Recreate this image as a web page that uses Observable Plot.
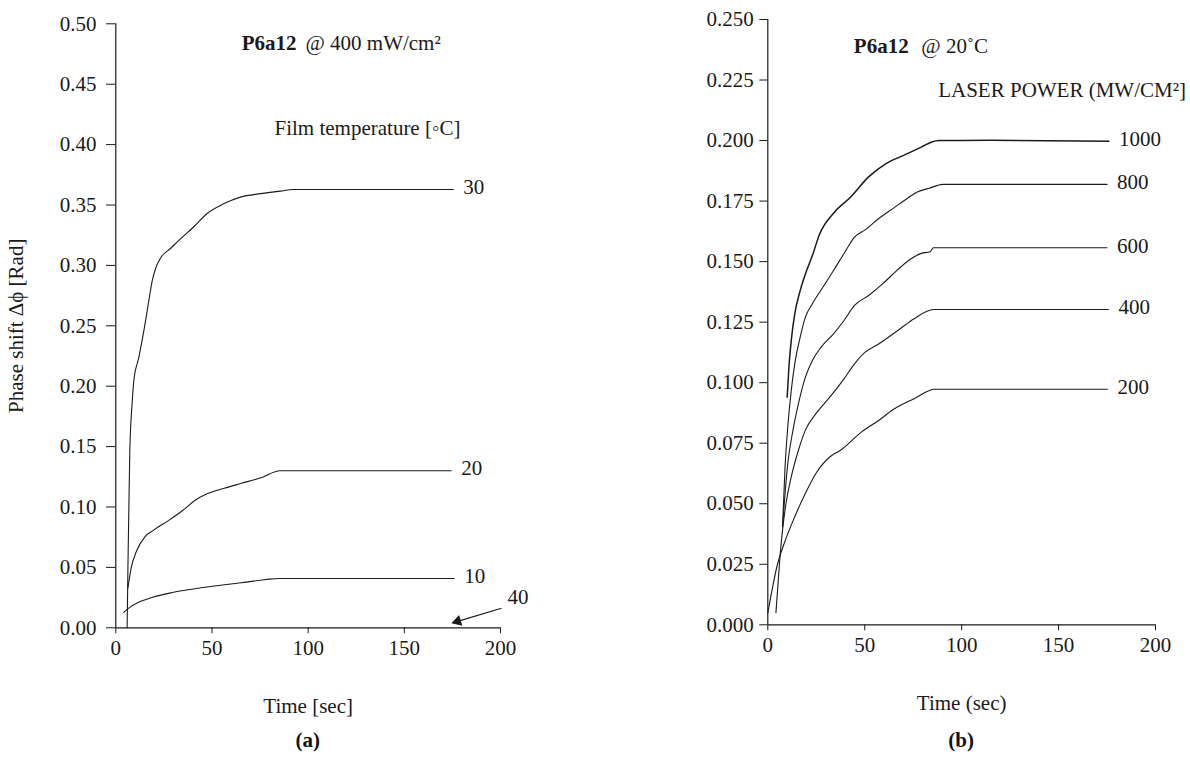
<!DOCTYPE html>
<html>
<head>
<meta charset="utf-8">
<script src="https://cdn.jsdelivr.net/npm/d3@7"></script>
<script src="https://cdn.jsdelivr.net/npm/@observablehq/plot@0.6"></script>
<style>
  html, body { margin: 0; padding: 0; background: #fff; }
  #wrap { display: flex; width: 1190px; }
  .fig { width: 595px; }
  .cap { font-family: 'Liberation Serif', serif; font-weight: bold; font-size: 21px; line-height: 24px; text-align: center; color: #111; margin-top: 8px; }
  svg { overflow: visible; }
  svg text { font-family: 'Liberation Serif', 'Times New Roman', serif !important; }
</style>
</head>
<body>
<div id="wrap">
  <div class="fig" id="figA"></div>
  <div class="fig" id="figB"></div>
</div>
<script>
// ---------- Panel (a): film temperature series ----------
const seriesA = ["30", "20", "10"];
const timeA30 = [5.9, 6.3, 6.8, 7.3, 8.5, 9.4, 12, 14.6, 17.2, 18.9, 20.6, 23.2, 28.4, 33.6, 40.6, 47.5, 56.1, 64.8, 75.2, 85.6, 92.2, 175.5];
const phaseA30 = [0, 0.05, 0.10, 0.147, 0.186, 0.205, 0.224, 0.246, 0.271, 0.287, 0.297, 0.306, 0.314, 0.322, 0.332, 0.343, 0.351, 0.3565, 0.3594, 0.3615, 0.3628, 0.3628];
const timeA20 = [6.3, 8.0, 10.7, 15.2, 19.7, 27.7, 34.9, 41.1, 47.4, 56.4, 65.3, 76, 85.3, 174.4];
const phaseA20 = [0.033, 0.0496, 0.0632, 0.0755, 0.0809, 0.0891, 0.0973, 0.1054, 0.1109, 0.1155, 0.1196, 0.1245, 0.1300, 0.1300];
const timeA10 = [4.1, 7.2, 11.6, 18.8, 29.5, 47.4, 65.3, 85.3, 175.9];
const phaseA10 = [0.0128, 0.0169, 0.021, 0.0251, 0.0292, 0.0338, 0.0373, 0.0408, 0.0408];
// the 40 °C series stays at zero; it is pointed out with an arrow
const arrow40 = {label: "40", x1: 200.5, y1: 0.0162, x2: 177.7, y2: 0.0053, tipX: 177.7, tipY: 0.0053};
const ticksA = [0, 0.05, 0.10, 0.15, 0.20, 0.25, 0.30, 0.35, 0.40, 0.45, 0.50];

// ---------- Panel (b): laser power series ----------
const seriesB = ["1000", "800", "600", "400", "200"];
const timeB1000 = [10.0, 10.9, 12.1, 13.9, 16.7, 19.4, 23.0, 26.6, 33.9, 42.9, 52, 61, 70.1, 79.2, 84.6, 88.2, 115, 176];
const phaseB1000 = [0.094, 0.1065, 0.1174, 0.1284, 0.138, 0.1449, 0.1525, 0.1611, 0.17, 0.1768, 0.185, 0.1905, 0.1939, 0.1973, 0.1994, 0.2, 0.2001, 0.1997];
const timeB800 = [7.6, 8.9, 10.3, 12.1, 13.9, 16.7, 19.4, 23.0, 28.4, 33.9, 40.2, 44.7, 50.2, 57.4, 64.7, 71.9, 77.4, 82.8, 90.4, 175];
const phaseB800 = [0.0405, 0.0652, 0.0817, 0.0968, 0.1078, 0.1188, 0.1271, 0.1326, 0.1394, 0.1463, 0.1545, 0.1601, 0.1631, 0.1679, 0.172, 0.1761, 0.1789, 0.1802, 0.1819, 0.1819];
const timeB600 = [7.6, 8.5, 10.3, 13.0, 15.8, 19.4, 23.0, 27.5, 33.9, 39.3, 44.7, 52, 59.2, 66.5, 73.7, 79.2, 83.7, 85.5, 175];
const phaseB600 = [0.0405, 0.0501, 0.0666, 0.0804, 0.0913, 0.1023, 0.1092, 0.1147, 0.1202, 0.1257, 0.1319, 0.136, 0.1408, 0.1463, 0.1511, 0.1534, 0.1541, 0.1557, 0.1557];
const timeB400 = [4.2, 5.3, 6.3, 7.6, 9.4, 12.1, 15.8, 19.4, 24.8, 32.1, 39.3, 44.7, 50.2, 57.4, 68.3, 75.5, 85.5, 175.7];
const phaseB400 = [0.005, 0.0172, 0.0282, 0.0391, 0.0501, 0.0611, 0.0721, 0.0804, 0.0872, 0.0941, 0.1016, 0.1078, 0.1126, 0.1161, 0.1223, 0.1264, 0.1302, 0.1302];
const timeB200 = [0, 2.2, 4.9, 8.5, 13.9, 19.4, 24.8, 32.1, 37.5, 48.4, 57.4, 64.7, 75.5, 86.1, 175.2];
const phaseB200 = [0.0048, 0.0144, 0.0247, 0.0337, 0.0446, 0.0543, 0.0625, 0.0694, 0.0721, 0.0797, 0.0845, 0.0889, 0.0934, 0.0973, 0.0973];
const ticksB = [0, 0.025, 0.05, 0.075, 0.10, 0.125, 0.15, 0.175, 0.20, 0.225, 0.25];
const ticksX = [0, 50, 100, 150, 200];

// ---------- build tables ----------
function table(names, times, phases) {
  const rows = [];
  names.forEach((s, i) => times[i].forEach((t, j) => rows.push({series: s, t, v: phases[i][j]})));
  return rows;
}
function ends(names, times, phases) {
  return names.map((s, i) => ({series: s, t: times[i][times[i].length - 1], v: phases[i][phases[i].length - 1]}));
}
const dataA = table(seriesA, [timeA30, timeA20, timeA10], [phaseA30, phaseA20, phaseA10]);
const endsA = ends(seriesA, [timeA30, timeA20, timeA10], [phaseA30, phaseA20, phaseA10]);
const tB = [timeB1000, timeB800, timeB600, timeB400, timeB200];
const pB = [phaseB1000, phaseB800, phaseB600, phaseB400, phaseB200];
const dataB = table(seriesB, tB, pB);
const endsB = ends(seriesB, tB, pB);

const FONT = "'Liberation Serif', 'Times New Roman', serif";
const INK = "#1a1a1a";
const W = 595, H = 720;

// ---------- panel (a) ----------
const mA = {left: 115.3, right: 95, top: 23.3, bottom: 92.7};
const plotA = Plot.plot({
  width: W, height: H,
  marginLeft: mA.left, marginRight: mA.right, marginTop: mA.top, marginBottom: mA.bottom,
  style: {fontFamily: FONT, fontSize: "21px", color: INK, background: "#fff", overflow: "visible"},
  x: {domain: [0, 200], ticks: ticksX, tickSize: 6, tickPadding: 6, label: "Time [sec]", labelAnchor: "center", labelOffset: 85, labelArrow: false},
  y: {domain: [0, 0.5], ticks: ticksA, tickFormat: d3.format(".2f"), tickSize: 9.3, tickPadding: 10, label: "Phase shift Δϕ [Rad]", labelAnchor: "center", labelOffset: 108, labelArrow: false},
  marks: [
    Plot.ruleY([0], {stroke: INK, strokeWidth: 1.2}),
    Plot.ruleX([0], {stroke: INK, strokeWidth: 1.2}),
    Plot.line(dataA, {x: "t", y: "v", z: "series", curve: "monotone-x", stroke: INK, strokeWidth: 1.1}),
    Plot.text(endsA, {x: "t", y: "v", text: "series", textAnchor: "start", dx: 10, dy: -2, fill: INK}),
    Plot.link([arrow40], {x1: "x1", y1: "y1", x2: "x2", y2: "y2", stroke: INK, strokeWidth: 1.1}),
    Plot.dot([arrow40], {x: "tipX", y: "tipY", symbol: "triangle", r: 4.2, fill: INK, stroke: "none", rotate: 253}),
    Plot.text([arrow40], {x: "x1", y: "y1", text: "label", textAnchor: "start", dx: 6, dy: -11, fill: INK}),
    Plot.text(["P6a12"], {x: 65.5, y: 0.4835, text: d => d, textAnchor: "start", fontWeight: "bold", fill: INK}),
    Plot.text(["@ 400 mW/cm²"], {x: 98.6, y: 0.4835, text: d => d, textAnchor: "start", fill: INK}),
    Plot.text(["Film temperature [◦C]"], {x: 82.5, y: 0.4137, text: d => d, textAnchor: "start", fill: INK})
  ]
});
document.getElementById("figA").appendChild(plotA);
const capA = document.createElement("div");
capA.className = "cap";
capA.style.marginLeft = mA.left + "px";
capA.style.width = (W - mA.left - mA.right) + "px";
capA.textContent = "(a)";
document.getElementById("figA").appendChild(capA);

// ---------- panel (b) ----------
const mB = {left: 172.3, right: 35, top: 19, bottom: 95.7};
const plotB = Plot.plot({
  width: W, height: H,
  marginLeft: mB.left, marginRight: mB.right, marginTop: mB.top, marginBottom: mB.bottom,
  style: {fontFamily: FONT, fontSize: "21px", color: INK, background: "#fff", overflow: "visible"},
  x: {domain: [0, 200], ticks: ticksX, tickSize: 6, tickPadding: 6, label: "Time (sec)", labelAnchor: "center", labelOffset: 85, labelArrow: false},
  y: {domain: [0, 0.25], ticks: ticksB, tickFormat: d3.format(".3f"), tickSize: 8, tickPadding: 6, label: null},
  marks: [
    Plot.ruleY([0], {stroke: INK, strokeWidth: 1.2}),
    Plot.ruleX([0], {stroke: INK, strokeWidth: 1.2}),
    Plot.line(dataB, {x: "t", y: "v", z: "series", curve: "monotone-x", stroke: INK, strokeWidth: d => d.series === "1000" ? 1.5 : 1.1}),
    Plot.text(endsB, {x: "t", y: "v", text: "series", textAnchor: "start", dx: 10, dy: -2, fill: INK}),
    Plot.text(["P6a12"], {x: 44.4, y: 0.239, text: d => d, textAnchor: "start", fontWeight: "bold", fill: INK}),
    Plot.text(["@ 20˚C"], {x: 79.2, y: 0.239, text: d => d, textAnchor: "start", fill: INK}),
    Plot.text(["LASER POWER (MW/CM²]"], {x: 87.9, y: 0.2206, text: d => d, textAnchor: "start", fill: INK})
  ]
});
document.getElementById("figB").appendChild(plotB);
const capB = document.createElement("div");
capB.className = "cap";
capB.style.marginLeft = mB.left + "px";
capB.style.width = (W - mB.left - mB.right) + "px";
capB.textContent = "(b)";
document.getElementById("figB").appendChild(capB);
</script>
</body>
</html>
